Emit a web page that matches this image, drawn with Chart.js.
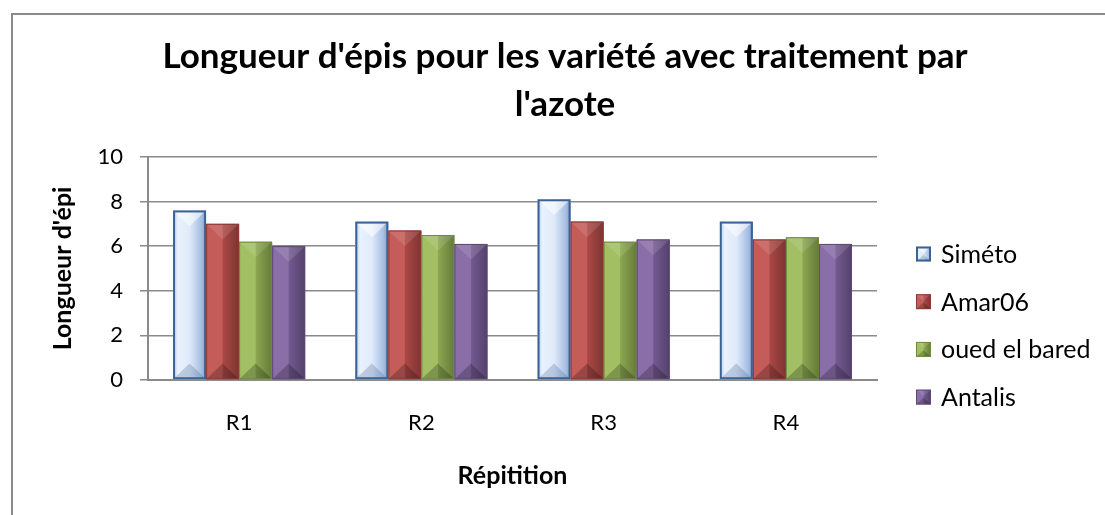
<!DOCTYPE html>
<html>
<head>
<meta charset="utf-8">
<script src="https://cdn.jsdelivr.net/npm/chart.js@4.4.1/dist/chart.umd.min.js"></script>
<style>
  html, body { margin: 0; padding: 0; background: #ffffff; }
  #wrap { position: relative; width: 1105px; height: 515px; overflow: hidden; }
  #frame { position: absolute; left: 11px; top: 13px; width: 1200px; height: 600px;
           border-left: 2px solid #8a8a8a; border-top: 2px solid #8a8a8a; }
  canvas { position: absolute; left: 0; top: 0; }
</style>
</head>
<body>
<div id="wrap">
  <div id="frame"></div>
  <canvas id="c" width="1105" height="515"></canvas>
</div>
<script>
const categories = ['R1', 'R2', 'R3', 'R4'];
const seriesNames = ['Siméto', 'Amar06', 'oued el bared', 'Antalis'];
const simeto = [7.6, 7.1, 8.1, 7.1];
const amar06 = [7.0, 6.7, 7.1, 6.3];
const ouedElBared = [6.2, 6.5, 6.2, 6.4];
const antalis = [6.0, 6.1, 6.3, 6.1];
const yTicks = [0, 2, 4, 6, 8, 10];

const baseColors = ['#c6d9f1', '#c0504d', '#9bbb59', '#8064a2'];
const borderColors = ['#3b6293', '#8c3836', '#71893f', '#5c4776'];
const FONT = 'Lato, "Open Sans", sans-serif';

function shadeRect(ctx, di, l, t, r, b, d) {
  const cx = (l + r) / 2;
  ctx.save();
  ctx.beginPath(); ctx.rect(l, t, r - l, b - t); ctx.clip();
  ctx.fillStyle = baseColors[di];
  ctx.fillRect(l, t, r - l, b - t);
  if (di === 0) {
    const g = ctx.createLinearGradient(l, 0, r, 0);
    g.addColorStop(0, '#b4cdee');
    g.addColorStop(0.15, '#e9f2fd');
    g.addColorStop(0.5, '#dfeafa');
    g.addColorStop(0.85, '#a7bfe3');
    g.addColorStop(1, '#7f9cc8');
    ctx.fillStyle = g;
    ctx.fillRect(l, t, r - l, b - t);
    ctx.fillStyle = 'rgba(255,255,255,0.55)';
    ctx.beginPath(); ctx.moveTo(l, t); ctx.lineTo(r, t); ctx.lineTo(cx, t + d); ctx.closePath(); ctx.fill();
    ctx.fillStyle = 'rgba(60,90,140,0.25)';
    ctx.beginPath(); ctx.moveTo(l, b); ctx.lineTo(r, b); ctx.lineTo(cx, b - d); ctx.closePath(); ctx.fill();
  } else {
    const g = ctx.createLinearGradient(cx, 0, r, 0);
    g.addColorStop(0, 'rgba(0,0,0,0.10)');
    g.addColorStop(1, 'rgba(0,0,0,0.35)');
    ctx.fillStyle = g;
    ctx.fillRect(cx, t, r - cx, b - t);
    ctx.fillStyle = 'rgba(255,255,255,0.07)';
    ctx.fillRect(l, t, cx - l, b - t);
    ctx.fillStyle = 'rgba(255,255,255,0.12)';
    ctx.beginPath(); ctx.moveTo(l, t); ctx.lineTo(r, t); ctx.lineTo(cx, t + d); ctx.closePath(); ctx.fill();
    ctx.fillStyle = 'rgba(0,0,0,0.22)';
    ctx.beginPath(); ctx.moveTo(l, b); ctx.lineTo(r, b); ctx.lineTo(cx, b - d); ctx.closePath(); ctx.fill();
  }
  ctx.restore();
  ctx.save();
  const lw = di === 0 ? 2 : 1;
  ctx.strokeStyle = borderColors[di];
  ctx.lineWidth = lw;
  ctx.strokeRect(l + lw / 2, t + lw / 2, r - l - lw, b - t - lw);
  ctx.restore();
}

const bevelPlugin = {
  id: 'bevel',
  afterDatasetsDraw(chart) {
    const ctx = chart.ctx;
    chart.data.datasets.forEach((ds, di) => {
      const meta = chart.getDatasetMeta(di);
      meta.data.forEach(bar => {
        const p = bar.getProps(['x', 'y', 'base', 'width'], true);
        const l = p.x - p.width / 2, r = p.x + p.width / 2;
        const d = Math.min(p.width / 2, (p.base - p.y) / 2) * 0.95;
        shadeRect(ctx, di, l, p.y, r, p.base, d);
      });
    });
  }
};

// legend drawn at the right, in Excel style, from the dataset labels
const legendPlugin = {
  id: 'xlLegend',
  afterDraw(chart) {
    const ctx = chart.ctx;
    const boxX = 916, box = 15, textX = 941;
    const firstY = 254, step = 47.7;
    ctx.save();
    ctx.font = '25px ' + FONT;
    ctx.textBaseline = 'middle';
    ctx.textAlign = 'left';
    chart.data.datasets.forEach((ds, i) => {
      const cy = firstY + i * step;
      shadeRect(ctx, i, boxX, cy - box / 2, boxX + box, cy + box / 2, box / 2 * 0.9);
      ctx.fillStyle = '#000000';
      ctx.fillText(ds.label, textX, cy + 1);
    });
    ctx.restore();
  }
};

new Chart(document.getElementById('c'), {
  type: 'bar',
  data: {
    labels: categories,
    datasets: [
      { label: seriesNames[0], data: simeto, backgroundColor: baseColors[0] },
      { label: seriesNames[1], data: amar06, backgroundColor: baseColors[1] },
      { label: seriesNames[2], data: ouedElBared, backgroundColor: baseColors[2] },
      { label: seriesNames[3], data: antalis, backgroundColor: baseColors[3] }
    ]
  },
  options: {
    responsive: false,
    animation: false,
    devicePixelRatio: 1,
    layout: { padding: { left: 25, right: 0, top: 0, bottom: 0 } },
    datasets: { bar: { categoryPercentage: 0.725, barPercentage: 1.0, borderWidth: 0 } },
    plugins: {
      title: {
        display: true,
        text: ["Longueur d'épis pour les variété avec traitement par", "l'azote"],
        color: '#000000',
        font: { family: FONT, size: 35, weight: 'bold', lineHeight: 1.37 },
        padding: { top: 33, bottom: 28 }
      },
      legend: { display: false },
      tooltip: { enabled: false }
    },
    scales: {
      x: {
        afterFit(scale) { scale.height = 135; },
        grid: { display: false, drawTicks: false },
        border: { display: true, color: '#8a8a8a', width: 2 },
        ticks: { color: '#000', font: { family: FONT, size: 22 }, padding: 30 },
        title: { display: true, text: 'Répitition', color: '#000',
                 font: { family: FONT, size: 25, weight: 'bold', lineHeight: 1.2 }, padding: { top: 0, bottom: 24 } }
      },
      y: {
        min: 0, max: 10,
        afterFit(scale) { scale.width = 123; },
        afterBuildTicks(scale) { scale.ticks = yTicks.map(v => ({ value: v })); },
        grid: { color: '#8a8a8a', lineWidth: 1.5, tickLength: 8, drawTicks: true },
        border: { display: true, color: '#8a8a8a', width: 2 },
        ticks: { color: '#000', font: { family: FONT, size: 22 }, padding: 17 },
        title: { display: true, text: "Longueur d'épi", color: '#000',
                 font: { family: FONT, size: 25, weight: 'bold', lineHeight: 1.2 }, padding: { top: 23, bottom: 0 } }
      },
      legendSpace: {
        type: 'linear',
        position: 'right',
        display: true,
        afterFit(scale) { scale.width = 228; },
        grid: { display: false, drawTicks: false },
        border: { display: false },
        ticks: { display: false },
        title: { display: false }
      }
    }
  },
  plugins: [bevelPlugin, legendPlugin]
});
</script>
</body>
</html>
